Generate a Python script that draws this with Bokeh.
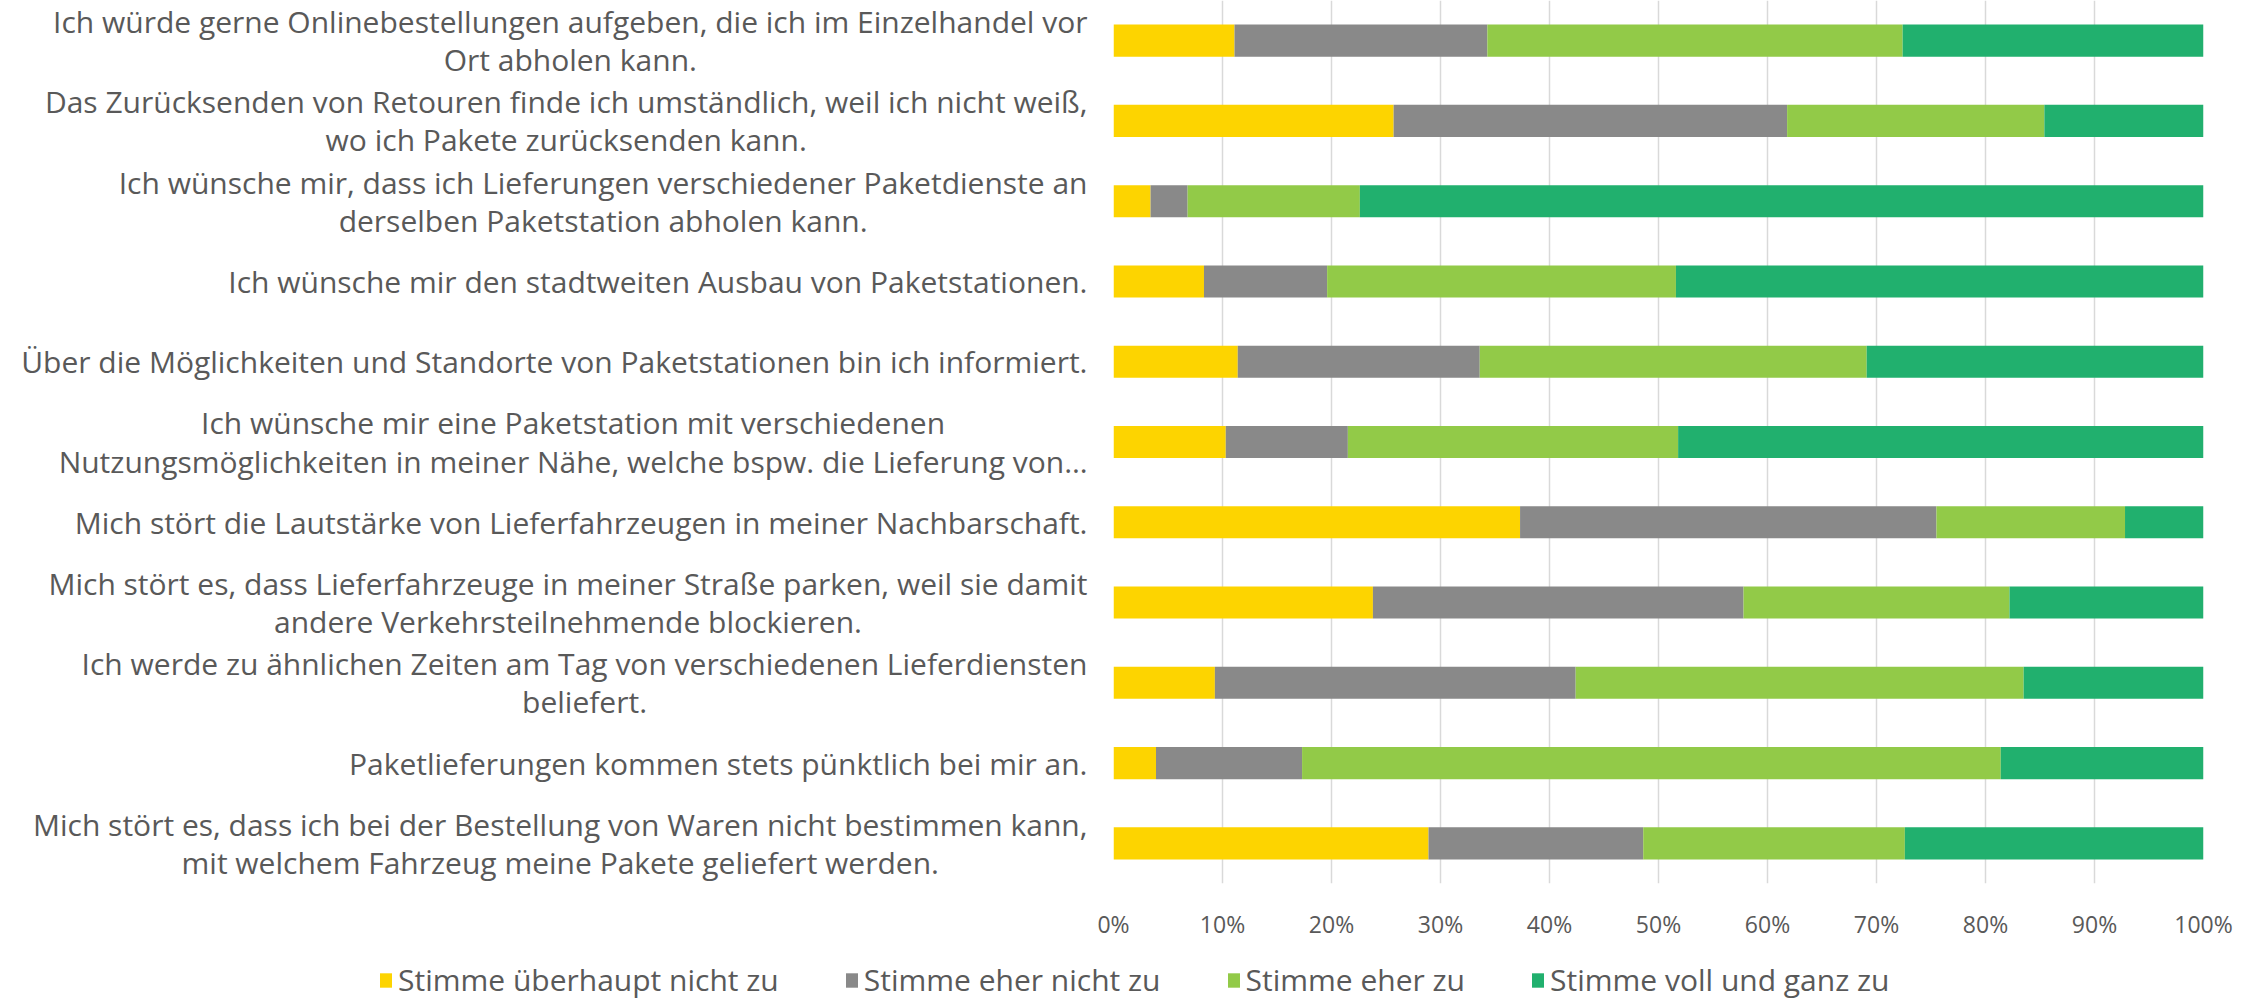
from bokeh.plotting import figure
from bokeh.layouts import column, row
from bokeh.models import (FactorRange, Range1d, Legend, LegendItem, FixedTicker,
                          PrintfTickFormatter, ColumnDataSource)
from bokeh.core.properties import value
from bokeh.embed import file_html
from bokeh.resources import INLINE

statements = [
    "Ich würde gerne Onlinebestellungen aufgeben, die ich im Einzelhandel vor\nOrt abholen kann.",
    "Das Zurücksenden von Retouren finde ich umständlich, weil ich nicht weiß,\nwo ich Pakete zurücksenden kann.",
    "Ich wünsche mir, dass ich Lieferungen verschiedener Paketdienste an\nderselben Paketstation abholen kann.",
    "Ich wünsche mir den stadtweiten Ausbau von Paketstationen.",
    "Über die Möglichkeiten und Standorte von Paketstationen bin ich informiert.",
    "Ich wünsche mir eine Paketstation mit verschiedenen\nNutzungsmöglichkeiten in meiner Nähe, welche bspw. die Lieferung von…",
    "Mich stört die Lautstärke von Lieferfahrzeugen in meiner Nachbarschaft.",
    "Mich stört es, dass Lieferfahrzeuge in meiner Straße parken, weil sie damit\nandere Verkehrsteilnehmende blockieren.",
    "Ich werde zu ähnlichen Zeiten am Tag von verschiedenen Lieferdiensten\nbeliefert.",
    "Paketlieferungen kommen stets pünktlich bei mir an.",
    "Mich stört es, dass ich bei der Bestellung von Waren nicht bestimmen kann,\nmit welchem Fahrzeug meine Pakete geliefert werden.",
]

series_names = ["Stimme überhaupt nicht zu", "Stimme eher nicht zu",
                "Stimme eher zu", "Stimme voll und ganz zu"]

stimme_ueberhaupt_nicht_zu = [11.1, 25.7, 3.4, 8.3, 11.4, 10.3, 37.3, 23.8, 9.3, 3.9, 28.9]
stimme_eher_nicht_zu = [23.2, 36.1, 3.4, 11.3, 22.2, 11.2, 38.2, 34.0, 33.1, 13.4, 19.7]
stimme_eher_zu = [38.1, 23.6, 15.8, 32.0, 35.5, 30.3, 17.3, 24.4, 41.1, 64.1, 24.0]
stimme_voll_und_ganz_zu = [27.6, 14.6, 77.4, 48.4, 30.9, 48.2, 7.2, 17.8, 16.5, 18.6, 27.4]

x_ticks = [0, 10, 20, 30, 40, 50, 60, 70, 80, 90, 100]

colors = ["#FDD400", "#898989", "#92CA48", "#21B06E"]
keys = ["s1", "s2", "s3", "s4"]

source = ColumnDataSource(dict(
    cat=statements,
    s1=stimme_ueberhaupt_nicht_zu,
    s2=stimme_eher_nicht_zu,
    s3=stimme_eher_zu,
    s4=stimme_voll_und_ganz_zu,
))

FONT = "Open Sans"
TXT = "#595959"
TOTAL_W = 2256
TOTAL_H = 1000
LAB_W = 1091
H_TOP = 942
B_BOTTOM = 45

y_range = FactorRange(factors=list(reversed(statements)), range_padding=0)

# ---- label panel (left) ----
lab = figure(width=LAB_W, height=H_TOP, output_backend="svg", toolbar_location=None,
             x_range=Range1d(0, 1), y_range=y_range,
             x_axis_location=None, y_axis_location=None,
             min_border_left=0, min_border_right=0, min_border_top=0, min_border_bottom=B_BOTTOM)
lab.outline_line_color = None
lab.grid.grid_line_color = None
lab.text(x=1, y="cat", text="cat", source=source, anchor="center_right",
         text_align="center", text_baseline="middle", x_offset=-4,
         text_font=value(FONT), text_font_size="30px", text_color=TXT, text_line_height=0.93)

# ---- bar panel ----
p = figure(width=TOTAL_W - LAB_W, height=H_TOP, output_backend="svg", toolbar_location=None,
           y_range=y_range, x_range=Range1d(0, 100), y_axis_location=None,
           min_border_left=22, min_border_right=53, min_border_top=0, min_border_bottom=B_BOTTOM)

renderers = p.hbar_stack(keys, y="cat", height=0.4, color=colors, line_color=None, source=source)

p.outline_line_color = None
p.ygrid.grid_line_color = None
p.xgrid.grid_line_color = "#D9D9D9"
p.xgrid.grid_line_width = 1.5

p.xaxis.ticker = FixedTicker(ticks=x_ticks)
p.xaxis.formatter = PrintfTickFormatter(format="%d%%")
p.xaxis.axis_line_color = None
p.xaxis.major_tick_line_color = None
p.xaxis.minor_tick_line_color = None
p.xaxis.major_label_text_font = FONT
p.xaxis.major_label_text_font_size = "23px"
p.xaxis.major_label_text_color = TXT
p.xaxis.major_label_standoff = 18

# ---- legend panel (bottom) ----
leg = figure(width=TOTAL_W, height=TOTAL_H - H_TOP, output_backend="svg", toolbar_location=None,
             x_range=Range1d(0, 100), y_range=y_range,
             x_axis_location=None, y_axis_location=None,
             min_border_left=0, min_border_right=0, min_border_top=0, min_border_bottom=0)
leg.outline_line_color = None
leg.grid.grid_line_color = None
swatches = leg.hbar_stack(keys, y="cat", height=0.4, color=colors, line_color=None, source=source)
for r in swatches:
    r.visible = False
items = [LegendItem(label=n, renderers=[r]) for n, r in zip(series_names, swatches)]
legend = Legend(items=items, orientation="horizontal", location=(378, 0),
                glyph_width=15, glyph_height=18, label_standoff=5, spacing=65,
                padding=0, margin=0, border_line_color=None, background_fill_alpha=0,
                label_text_font=FONT, label_text_font_size="30px", label_text_color=TXT)
leg.add_layout(legend, "center")

layout = column(row(lab, p), leg)
open("out.html", "w").write(file_html(layout, INLINE))
